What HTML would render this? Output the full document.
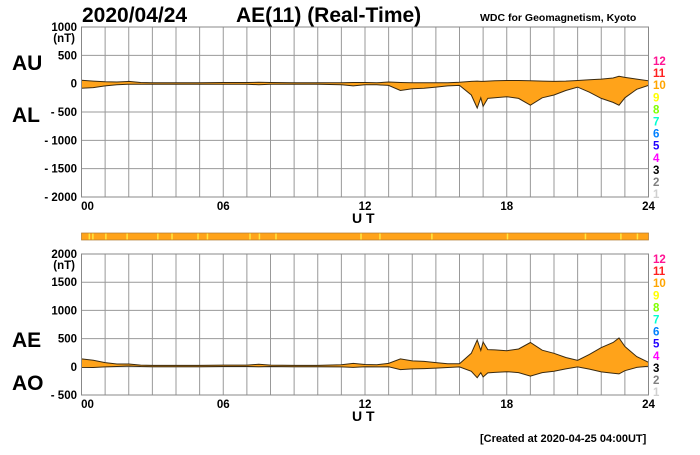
<!DOCTYPE html>
<html><head><meta charset="utf-8">
<style>
body{margin:0;background:#fff;width:700px;height:450px;overflow:hidden;font-family:"Liberation Sans",Arial,sans-serif}
svg text{font-family:"Liberation Sans",Arial,sans-serif;font-weight:bold}
</style></head>
<body>
<svg id="c" width="700" height="450" xmlns="http://www.w3.org/2000/svg">
<text x="82" y="22" font-size="21">2020/04/24</text>
<text x="236" y="22" font-size="21">AE(11) (Real-Time)</text>
<text x="480" y="21" font-size="10.5">WDC for Geomagnetism, Kyoto</text>
<text x="12" y="70" font-size="21">AU</text>
<text x="12" y="122" font-size="21">AL</text>
<text x="12" y="347" font-size="21">AE</text>
<text x="12" y="390" font-size="21">AO</text>
<text x="352" y="223" font-size="14">U T</text>
<text x="352" y="421" font-size="14">U T</text>
<text x="480" y="442" font-size="11" font-weight="normal">[Created at 2020-04-25 04:00UT]</text>
</svg>
<script>
const hours=[0,0.5,1,1.5,2,2.5,3,4,5,6,7,7.5,8,9,10,11,11.5,12,12.5,13,13.5,14,14.5,15,15.5,16,16.5,16.75,16.9,17,17.2,17.5,18,18.5,19,19.5,20,20.5,21,21.5,22,22.5,22.75,23,23.5,24];
const au=[60,45,35,30,40,20,15,15,15,20,20,25,20,15,15,15,20,20,15,30,20,15,15,15,15,25,40,45,40,40,45,50,55,55,50,45,40,45,55,70,80,100,130,110,80,50];
const al=[-80,-70,-40,-20,-10,-10,-10,-10,-10,-10,-10,-20,-10,-10,-10,-20,-40,-20,-20,-30,-120,-90,-80,-60,-40,-30,-200,-430,-250,-400,-260,-250,-230,-260,-380,-250,-200,-120,-60,-150,-260,-330,-380,-250,-100,-30];
const topTicks=[1000,500,0,-500,-1000,-1500,-2000];
const botTicks=[2000,1500,1000,500,0,-500];
const xTicks=["00","06","12","18","24"];
const levelLabels=["12","11","10","9","8","7","6","5","4","3","2","1"];
const levelColors=["#ff1493","#ff2020","#ffa500","#ffff00","#80ff00","#00ffd0","#0080ff","#2000ff","#ff00ff","#000000","#808080","#d0d0d0"];
const statusYellow=[0.3,0.45,1.0,1.9,3.2,3.8,4.9,5.3,7.1,7.5,8.2,11.8,12.6,14.8,18.0,21.3,22.8,23.5];

const NS="http://www.w3.org/2000/svg";
const svg=document.getElementById('c');
function el(t,a,p){const e=document.createElementNS(NS,t);for(const k in a)e.setAttribute(k,a[k]);(p||svg).appendChild(e);return e;}
const X0=81.5,X1=648.5;
const xs=h=>X0+(X1-X0)*h/24;

function panel(name,top,bot,vmax,vmin,ticks,upper,lower,levelTop){
  const ys=v=>top+(bot-top)*(vmax-v)/(vmax-vmin);
  const g=el('g',{});
  
  
  for(let h=0;h<=24;h++){const l=el('line',{x1:xs(h),x2:xs(h),y1:top,y2:bot,stroke:'#999','stroke-width':1},g);
    }
  ticks.forEach((v,i)=>{const l=el('line',{x1:X0,x2:X1,y1:ys(v),y2:ys(v),stroke:'#999','stroke-width':1},g);
    
    const t=el('text',{x:77,y:ys(v)+4,'font-size':11.5,'text-anchor':'end'},g);
    t.textContent=v<0?('- '+(-v)):String(v);
    
    if(i===0){const u=el('text',{x:75,y:ys(v)+15,'font-size':11.5,'text-anchor':'end'},g);u.textContent='(nT)';
      }
  });
  let d='M'+hours.map((h,i)=>xs(h).toFixed(1)+','+ys(upper[i]).toFixed(1)).join('L');
  for(let i=hours.length-1;i>=0;i--)d+='L'+xs(hours[i]).toFixed(1)+','+ys(lower[i]).toFixed(1);
  const a=el('path',{d:d+'Z',fill:'#ffa31a',stroke:'#3a2a10','stroke-width':1},g);
  
  el('rect',{x:X0,y:top,width:X1-X0,height:bot-top,fill:'none',stroke:'#888'},g);
  xTicks.forEach((s,i)=>{const t=el('text',{x:xs(i*6)+(i===0?6:0),y:bot+13,'font-size':11.5,'text-anchor':'middle'},g);t.textContent=s;
    });
  levelLabels.forEach((s,i)=>{const t=el('text',{x:653,y:levelTop+i*12.1,'font-size':11.5,fill:levelColors[i]},g);t.textContent=s;
    });
}
panel('au-al',27,197,1000,-2000,topTicks,au,al,65);
const ae=au.map((v,i)=>v-al[i]);
const ao=au.map((v,i)=>(v+al[i])/2);
panel('ae-ao',254,395,2000,-500,botTicks,ae,ao,263);

const sb=el('rect',{x:X0,y:233,width:X1-X0,height:7,fill:'#ffa31a',stroke:'#b07830','stroke-width':0.7});

statusYellow.forEach(h=>{const r=el('rect',{x:xs(h),y:233.5,width:1.5,height:6,fill:'#ffe840'});
  });
</script>
</body></html>
